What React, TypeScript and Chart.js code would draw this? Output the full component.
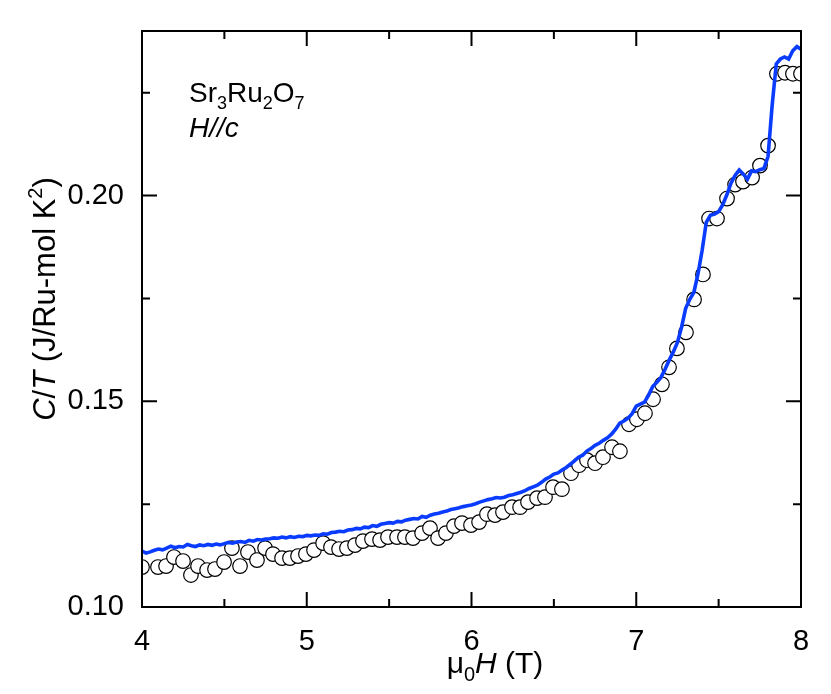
import React, { useEffect, useRef } from "react";
import { Chart, registerables } from "chart.js";
Chart.register(...registerables);

// Open circles: field (T) and C/T (J/Ru-mol K^2)
const circleX = [4.0, 4.097, 4.146, 4.194, 4.249, 4.297, 4.34, 4.395, 4.443, 4.498, 4.546, 4.595, 4.643, 4.698, 4.747, 4.795, 4.85, 4.898, 4.947, 4.995, 5.044, 5.099, 5.147, 5.196, 5.244, 5.293, 5.341, 5.396, 5.445, 5.493, 5.548, 5.596, 5.645, 5.7, 5.748, 5.797, 5.845, 5.894, 5.942, 5.997, 6.046, 6.094, 6.143, 6.191, 6.246, 6.295, 6.343, 6.398, 6.446, 6.495, 6.549, 6.604, 6.653, 6.701, 6.75, 6.798, 6.853, 6.901, 6.956, 7.004, 7.053, 7.102, 7.156, 7.199, 7.247, 7.302, 7.351, 7.405, 7.442, 7.49, 7.551, 7.6, 7.648, 7.703, 7.751, 7.8, 7.854, 7.903, 7.951, 8.0];
const circleY = [0.10971, 0.10971, 0.10995, 0.11214, 0.11117, 0.10777, 0.10995, 0.10898, 0.10922, 0.11092, 0.11432, 0.10995, 0.11335, 0.11141, 0.11432, 0.11286, 0.11189, 0.11189, 0.11238, 0.11286, 0.11383, 0.11553, 0.11456, 0.11408, 0.11432, 0.11505, 0.11602, 0.1165, 0.11626, 0.11699, 0.11699, 0.11699, 0.11675, 0.11796, 0.11917, 0.11675, 0.11796, 0.11966, 0.12039, 0.1199, 0.12063, 0.12257, 0.12233, 0.12306, 0.12427, 0.12427, 0.12549, 0.12646, 0.1267, 0.12913, 0.12864, 0.13252, 0.13447, 0.13568, 0.13495, 0.13641, 0.13883, 0.13786, 0.14442, 0.14563, 0.14709, 0.15049, 0.15413, 0.15825, 0.16286, 0.16675, 0.17476, 0.18083, 0.19442, 0.19442, 0.19927, 0.20267, 0.2034, 0.20437, 0.20728, 0.21214, 0.22961, 0.22985, 0.22961, 0.22961];

// Blue continuous trace
const lineX = [4.0, 4.025, 4.05, 4.075, 4.1, 4.125, 4.15, 4.175, 4.2, 4.225, 4.25, 4.275, 4.3, 4.325, 4.35, 4.375, 4.4, 4.425, 4.45, 4.475, 4.5, 4.525, 4.55, 4.575, 4.6, 4.625, 4.65, 4.675, 4.7, 4.725, 4.75, 4.775, 4.8, 4.825, 4.85, 4.875, 4.9, 4.925, 4.95, 4.975, 5.0, 5.025, 5.05, 5.075, 5.1, 5.125, 5.15, 5.175, 5.2, 5.225, 5.25, 5.275, 5.3, 5.325, 5.35, 5.375, 5.4, 5.425, 5.45, 5.475, 5.5, 5.525, 5.55, 5.575, 5.6, 5.625, 5.65, 5.675, 5.7, 5.725, 5.75, 5.775, 5.8, 5.825, 5.85, 5.875, 5.9, 5.925, 5.95, 5.975, 6.0, 6.025, 6.05, 6.075, 6.1, 6.125, 6.15, 6.175, 6.2, 6.225, 6.25, 6.275, 6.3, 6.325, 6.35, 6.375, 6.4, 6.425, 6.45, 6.475, 6.5, 6.525, 6.55, 6.575, 6.6, 6.625, 6.65, 6.675, 6.7, 6.725, 6.75, 6.775, 6.8, 6.825, 6.85, 6.875, 6.9, 6.925, 6.95, 6.975, 7.0, 7.025, 7.05, 7.075, 7.1, 7.125, 7.15, 7.175, 7.2, 7.225, 7.25, 7.275, 7.3, 7.325, 7.35, 7.375, 7.4, 7.425, 7.45, 7.475, 7.5, 7.525, 7.55, 7.575, 7.6, 7.625, 7.65, 7.675, 7.7, 7.725, 7.75, 7.775, 7.8, 7.825, 7.85, 7.875, 7.9, 7.925, 7.95, 7.975, 8.0];
const lineY = [0.1136, 0.1131, 0.1134, 0.1138, 0.1141, 0.1139, 0.1143, 0.1148, 0.1144, 0.1147, 0.1146, 0.1152, 0.1149, 0.1147, 0.1151, 0.1149, 0.1152, 0.115, 0.1153, 0.1151, 0.1154, 0.1157, 0.1155, 0.1158, 0.1159, 0.1157, 0.1162, 0.116, 0.1164, 0.1163, 0.1165, 0.1166, 0.1168, 0.1167, 0.117, 0.1168, 0.1171, 0.1169, 0.1172, 0.1171, 0.1174, 0.1173, 0.1175, 0.1174, 0.1178, 0.1177, 0.1181, 0.1182, 0.1184, 0.1183, 0.1187, 0.1188, 0.1191, 0.119, 0.1194, 0.1193, 0.1198, 0.1196, 0.1201, 0.1203, 0.1205, 0.1204, 0.1208, 0.1207, 0.1211, 0.1213, 0.1215, 0.1214, 0.122, 0.1218, 0.1223, 0.1226, 0.1228, 0.1231, 0.1233, 0.1237, 0.1239, 0.1241, 0.1244, 0.1246, 0.1248, 0.1251, 0.1255, 0.1258, 0.1261, 0.1263, 0.1266, 0.1265, 0.1267, 0.1271, 0.1273, 0.1276, 0.1279, 0.1283, 0.1288, 0.1292, 0.1296, 0.1303, 0.1311, 0.1316, 0.1323, 0.1326, 0.1333, 0.1339, 0.1347, 0.1355, 0.1364, 0.1369, 0.1379, 0.1385, 0.1393, 0.1398, 0.1405, 0.1411, 0.142, 0.1432, 0.1447, 0.1452, 0.1459, 0.147, 0.1488, 0.1493, 0.1498, 0.1515, 0.1536, 0.1546, 0.1558, 0.1578, 0.16, 0.162, 0.1643, 0.168, 0.1726, 0.1748, 0.1765, 0.181, 0.1867, 0.1935, 0.1952, 0.1955, 0.1961, 0.1978, 0.2002, 0.203, 0.2049, 0.2062, 0.2052, 0.204, 0.206, 0.2058, 0.2063, 0.2066, 0.2095, 0.222, 0.232, 0.2332, 0.2337, 0.2332, 0.2352, 0.2362, 0.2356];

const xTickValues = [4, 5, 6, 7, 8];
const xMinorTicks = [4.5, 5.5, 6.5, 7.5];
const yTickValues = [0.1, 0.15, 0.2];
const yMinorTicks = [0.125, 0.175, 0.225];

const FONT = "'Liberation Sans', Arial, sans-serif";
const BLUE = "#0a3cff";

type Seg = { t: string; italic?: boolean; sub?: boolean; sup?: boolean };

function segFont(s: Seg, size: number) {
  const sz = s.sub || s.sup ? Math.round(size * 0.66) : size;
  return `${s.italic ? "italic " : ""}${sz}px ${FONT}`;
}
function richWidth(ctx: CanvasRenderingContext2D, segs: Seg[], size: number) {
  let w = 0;
  for (const s of segs) {
    ctx.font = segFont(s, size);
    w += ctx.measureText(s.t).width;
  }
  return w;
}
function drawRich(ctx: CanvasRenderingContext2D, segs: Seg[], x: number, y: number, size: number) {
  let cx = x;
  ctx.textBaseline = "alphabetic";
  ctx.textAlign = "left";
  for (const s of segs) {
    ctx.font = segFont(s, size);
    const dy = s.sub ? size * 0.25 : s.sup ? -size * 0.42 : 0;
    ctx.fillText(s.t, cx, y + dy);
    cx += ctx.measureText(s.t).width;
  }
}

const framePlugin = {
  id: "frame",
  beforeDraw(chart: any) {
    const c = chart.ctx;
    c.save();
    c.fillStyle = "#fff";
    c.fillRect(0, 0, chart.width, chart.height);
    c.restore();
  },
  afterDraw(chart: any) {
    const c: CanvasRenderingContext2D = chart.ctx;
    const { left, right, top, bottom } = chart.chartArea;
    const xs = chart.scales.x;
    const ys = chart.scales.y;
    c.save();
    c.strokeStyle = "#000";
    c.lineWidth = 2;
    c.strokeRect(left, top, right - left, bottom - top);
    c.beginPath();
    const major = 15, minor = 8;
    const xt = (v: number, len: number) => {
      const p = xs.getPixelForValue(v);
      c.moveTo(p, bottom); c.lineTo(p, bottom - len);
      c.moveTo(p, top); c.lineTo(p, top + len);
    };
    const yt = (v: number, len: number) => {
      const p = ys.getPixelForValue(v);
      c.moveTo(left, p); c.lineTo(left + len, p);
      c.moveTo(right, p); c.lineTo(right - len, p);
    };
    xTickValues.forEach((v) => xt(v, major));
    xMinorTicks.forEach((v) => xt(v, minor));
    yTickValues.forEach((v) => yt(v, major));
    yMinorTicks.forEach((v) => yt(v, minor));
    c.stroke();

    c.fillStyle = "#000";
    // annotations
    drawRich(c, [{ t: "Sr" }, { t: "3", sub: true }, { t: "Ru" }, { t: "2", sub: true }, { t: "O" }, { t: "7", sub: true }], 189, 102, 28);
    drawRich(c, [{ t: "H//c", italic: true }], 189, 137, 28);

    // x title
    const xSegs: Seg[] = [{ t: "\u03bc" }, { t: "0", sub: true }, { t: "H", italic: true }, { t: " (T)" }];
    const xw = richWidth(c, xSegs, 30);
    drawRich(c, xSegs, 495 - xw / 2, 673, 30);

    // y title
    const ySegs: Seg[] = [{ t: "C", italic: true }, { t: "/" }, { t: "T", italic: true }, { t: " (J/Ru-mol K" }, { t: "2", sup: true }, { t: ")" }];
    const yw = richWidth(c, ySegs, 31);
    c.translate(55, 299);
    c.rotate(-Math.PI / 2);
    drawRich(c, ySegs, -yw / 2, 0, 31);
    c.restore();
  },
};

export default function App() {
  const ref = useRef<HTMLCanvasElement>(null);
  useEffect(() => {
    if (!ref.current) return;
    const chart = new Chart(ref.current, {
      type: "scatter",
      data: {
        datasets: [
          {
            type: "line",
            data: lineX.map((x, i) => ({ x, y: lineY[i] })),
            borderColor: BLUE,
            borderWidth: 3.6,
            pointRadius: 0,
            tension: 0,
            order: 0,
          } as any,
          {
            type: "scatter",
            data: circleX.map((x, i) => ({ x, y: circleY[i] })),
            backgroundColor: "#fff",
            borderColor: "#000",
            borderWidth: 1.2,
            pointRadius: 7.3,
            order: 1,
          },
        ],
      },
      options: {
        animation: false,
        responsive: false,
        devicePixelRatio: 1,
        layout: { padding: { left: 0, top: 31, right: 30, bottom: 0 } },
        plugins: { legend: { display: false }, tooltip: { enabled: false } },
        scales: {
          x: {
            type: "linear",
            min: 4,
            max: 8,
            grid: { display: false },
            border: { display: false },
            ticks: {
              stepSize: 1,
              padding: 10,
              color: "#000",
              font: { family: FONT, size: 29 },
              maxRotation: 0,
              callback: (v: any) => (xTickValues.includes(Number(v)) ? String(v) : ""),
            },
            afterFit: (s: any) => { s.height = 87; },
          },
          y: {
            type: "linear",
            min: 0.1,
            max: 0.24,
            grid: { display: false },
            border: { display: false },
            ticks: {
              stepSize: 0.05,
              includeBounds: false,
              padding: 10,
              color: "#000",
              font: { family: FONT, size: 29 },
              callback: (v: any) => Number(v).toFixed(2),
            },
            afterFit: (s: any) => { s.width = 142; },
          },
        },
      },
      plugins: [framePlugin],
    });
    return () => chart.destroy();
  }, []);
  return (
    <div style={{ position: "absolute", left: 0, top: 0, width: 831, height: 694 }}>
      <canvas ref={ref} width={831} height={694} />
    </div>
  );
}
